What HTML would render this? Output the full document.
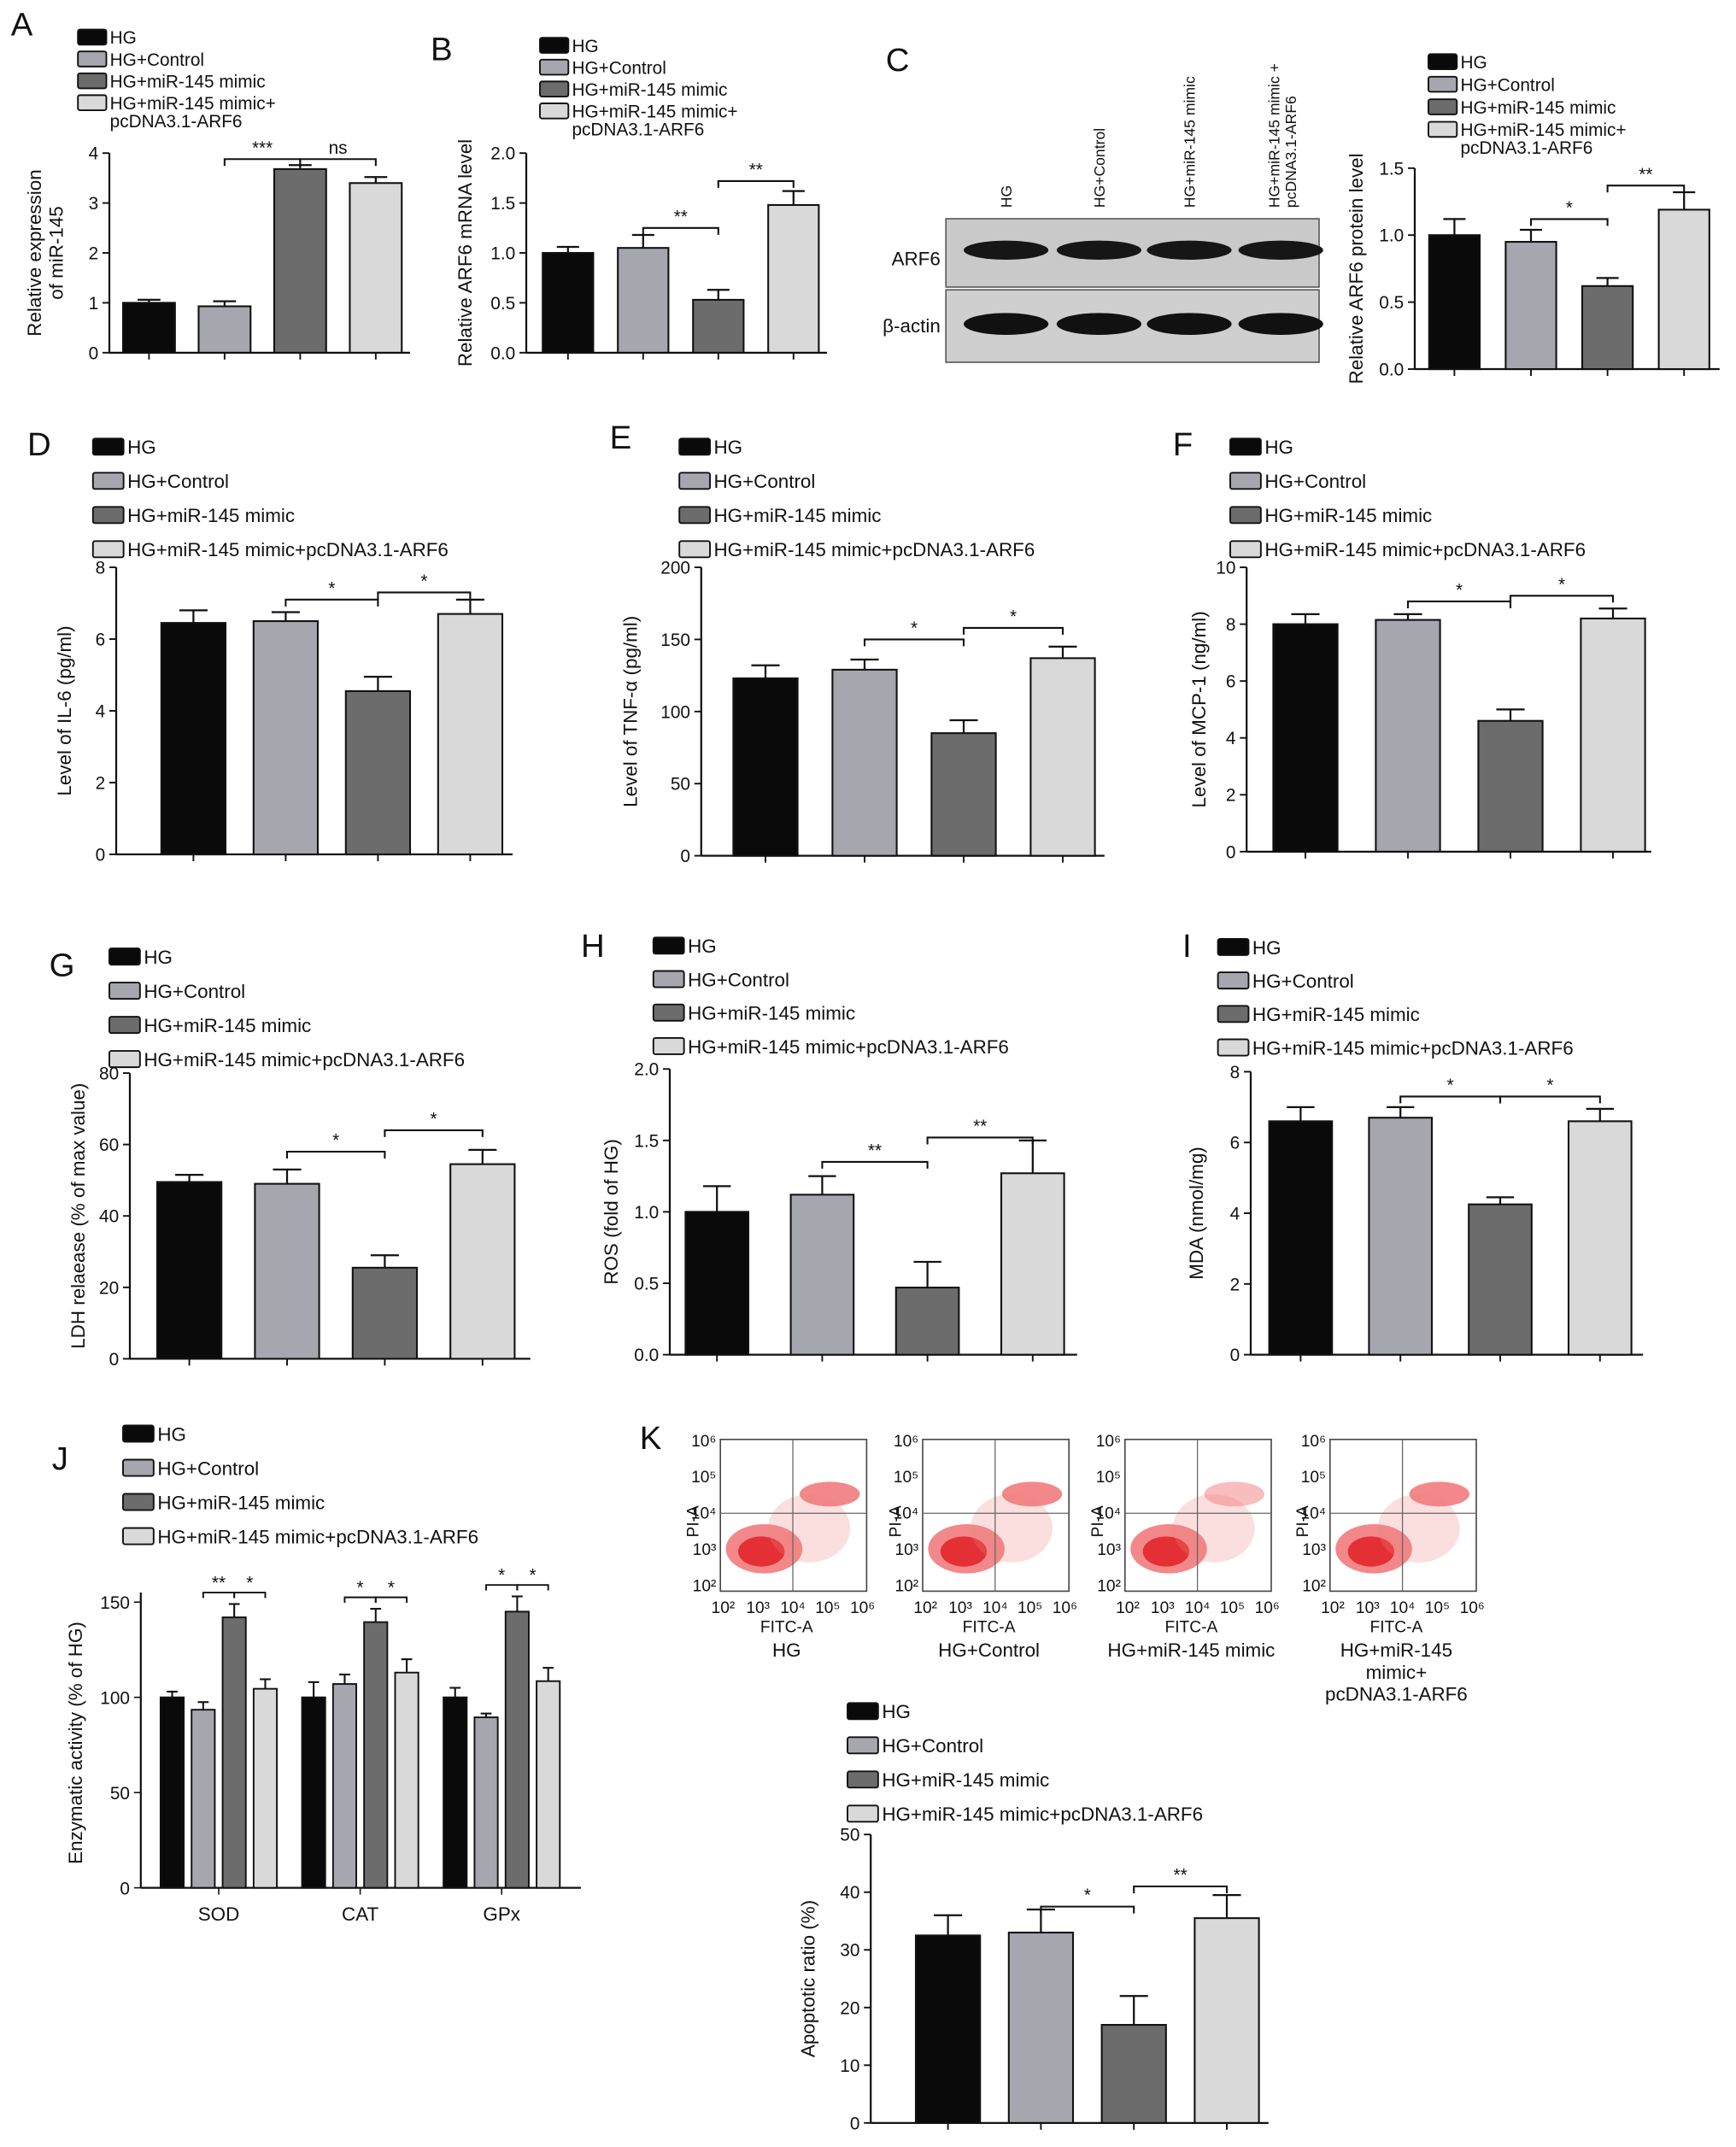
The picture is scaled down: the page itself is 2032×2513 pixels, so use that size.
<!DOCTYPE html>
<html><head><meta charset="utf-8"><style>
html,body{margin:0;padding:0;background:#fff}
svg{display:block}
text{font-family:"Liberation Sans",Arial,sans-serif;fill:#111}
</style></head><body>
<svg id="fig" width="2032" height="2513" viewBox="0 0 1270 1570.6" xmlns="http://www.w3.org/2000/svg"></svg>
<script>
const groups=["HG","HG+Control","HG+miR-145 mimic","HG+miR-145 mimic+pcDNA3.1-ARF6"];
const aValues=[1.0,0.93,3.68,3.4], aErrors=[0.06,0.1,0.08,0.12], aTicks=[0,1,2,3,4];
const bValues=[1.0,1.05,0.53,1.48], bErrors=[0.06,0.13,0.1,0.14], bTicks=[0,0.5,1.0,1.5,2.0];
const cValues=[1.0,0.95,0.62,1.19], cErrors=[0.12,0.09,0.06,0.13], cTicks=[0,0.5,1.0,1.5];
const dValues=[6.45,6.5,4.55,6.7], dErrors=[0.35,0.25,0.4,0.4], dTicks=[0,2,4,6,8];
const eValues=[123,129,85,137], eErrors=[9,7,9,8], eTicks=[0,50,100,150,200];
const fValues=[8.0,8.15,4.6,8.2], fErrors=[0.35,0.2,0.4,0.35], fTicks=[0,2,4,6,8,10];
const gValues=[49.5,49,25.5,54.5], gErrors=[2,4,3.5,4], gTicks=[0,20,40,60,80];
const hValues=[1.0,1.12,0.47,1.27], hErrors=[0.18,0.13,0.18,0.23], hTicks=[0,0.5,1.0,1.5,2.0];
const iValues=[6.6,6.7,4.25,6.6], iErrors=[0.4,0.3,0.2,0.35], iTicks=[0,2,4,6,8];
const jCategories=["SOD","CAT","GPx"];
const jHG=[100,100,100], jControl=[93.5,107,89.5], jMimic=[142,139.5,145], jARF6=[104.5,113,108.5];
const jErrHG=[3,8,5], jErrControl=[4,5,2], jErrMimic=[7,7,8], jErrARF6=[5,7,7];
const jTicks=[0,50,100,150];
const kValues=[32.5,33,17,35.5], kErrors=[3.5,4,5,4], kTicks=[0,10,20,30,40,50];
const fills=["#0a0a0a","#a6a6ae","#6c6c6c","#d9d9d9"];
const svg=document.getElementById('fig');
const NS="http://www.w3.org/2000/svg";
function mk(tag,attrs,parent,text){const e=document.createElementNS(NS,tag);for(const k in attrs)e.setAttribute(k,attrs[k]);if(text!==undefined)e.textContent=text;(parent||svg).appendChild(e);return e;}

function legend(x,y,gap,size,wrap){
  const g=mk('g',{});
  
  
  groups.forEach((lab,i)=>{
    const r=mk('rect',{x:x,y:y+i*gap-size*0.8,width:size*1.6,height:size*0.85,fill:fills[i],stroke:'#111','stroke-width':1.2,rx:1.5},g);
    
    
    if(wrap&&i===3){
      const t=mk('text',{x:x+size*1.8,y:y+i*gap,'font-size':size},g,"HG+miR-145 mimic+");
      
      const t2=mk('text',{x:x+size*1.8,y:y+i*gap+size,'font-size':size},g,"pcDNA3.1-ARF6");
      
    } else {
      const t=mk('text',{x:x+size*1.8,y:y+i*gap,'font-size':size},g,lab);
      
    }
  });
}
function panelLetter(l,x,y){const t=mk('text',{x:x,y:y,'font-size':24},svg,l);}

function chart(c){
  const g=mk('g',{});
  
  
  const max=c.ticks[c.ticks.length-1];
  const Y=v=>c.y0-(v/max)*(c.y0-c.y1);
  const fs=c.fs||13;
  const ax=mk('line',{x1:c.ax,y1:c.y1,x2:c.ax,y2:c.y0,stroke:'#111','stroke-width':1.4},g);
  
  const xa=mk('line',{x1:c.ax,y1:c.y0,x2:c.xend,y2:c.y0,stroke:'#111','stroke-width':1.4},g);
  
  c.ticks.forEach(t=>{
    mk('line',{x1:c.ax-5,y1:Y(t),x2:c.ax,y2:Y(t),stroke:'#111','stroke-width':1.2},g);
    const lab=mk('text',{x:c.ax-8,y:Y(t)+fs*0.36,'font-size':fs,'text-anchor':'end'},g,c.fmt?c.fmt(t):String(t));
    
  });
  const yl=mk('text',{transform:`translate(${c.ylx},${(c.y0+c.y1)/2}) rotate(-90)`,'font-size':fs+1,'text-anchor':'middle'},g);
  
  c.ylabel.forEach((s,i)=>mk('tspan',{x:0,dy:i?fs+3:0},yl,s));
  c.values.forEach((v,i)=>{
    const cx=c.x0+i*c.step, w=c.w;
    const e=c.errors[i];
    mk('line',{x1:cx,y1:Y(v),x2:cx,y2:Y(v+e),stroke:'#111','stroke-width':1.4},g);
    mk('line',{x1:cx-w*0.22,y1:Y(v+e),x2:cx+w*0.22,y2:Y(v+e),stroke:'#111','stroke-width':1.4},g);
    const b=mk('rect',{x:cx-w/2,y:Y(v),width:w,height:c.y0-Y(v),fill:fills[i],stroke:'#111','stroke-width':1.3},g);
    
    mk('line',{x1:cx,y1:c.y0,x2:cx,y2:c.y0+5,stroke:'#111','stroke-width':1.2},g);
  });
  (c.sig||[]).forEach(s=>{
    const x1=c.x0+s[0]*c.step, x2=c.x0+s[1]*c.step, yy=Y(s[2]);
    mk('path',{d:`M${x1},${yy+5}V${yy}H${x2}V${yy+5}`,fill:'none',stroke:'#111','stroke-width':1.3},g);
    const t=mk('text',{x:(x1+x2)/2,y:yy-4,'font-size':13,'text-anchor':'middle'},g,s[3]);
    
  });
}
const f1=t=>t.toFixed(1);
panelLetter('A',8,26);legend(57,32,16,13,true);
chart({name:'chart-a',ax:80,y0:258,y1:112,xend:300,x0:109,step:55.3,w:38,values:aValues,errors:aErrors,ticks:aTicks,ylx:30,ylabel:['Relative expression','of miR-145'],sig:[[1,2,3.88,'***'],[2,3,3.88,'ns']],fs:13});
panelLetter('B',315,44);legend(395,38,16,13,true);
chart({name:'chart-b',ax:385,y0:258,y1:112,xend:605,x0:415.5,step:55,w:37,values:bValues,errors:bErrors,ticks:bTicks,fmt:f1,ylx:345,ylabel:['Relative ARF6 mRNA level'],sig:[[1,2,1.25,'**'],[2,3,1.72,'**']]});
panelLetter('C',648,52);
(function(){
 const g=mk('g',{});
 mk('rect',{x:692,y:160,width:273,height:50,fill:'#c9c9c9',stroke:'#555'},g);
 mk('rect',{x:692,y:212,width:273,height:53,fill:'#cfcfcf',stroke:'#555'},g);
 const lanes=['HG','HG+Control','HG+miR-145 mimic','HG+miR-145 mimic +'];
 [736,804,870,932].forEach((x,i)=>{
   mk('ellipse',{cx:i===3?937:x,cy:183,rx:31,ry:7,fill:'#161616'},g);
   mk('ellipse',{cx:i===3?937:x,cy:237,rx:31,ry:8,fill:'#111'},g);
   const t=mk('text',{transform:`translate(${x+4},152) rotate(-90)`,'font-size':11},g,lanes[i]);
   
 });
 const t2=mk('text',{transform:`translate(948,152) rotate(-90)`,'font-size':11},g,'pcDNA3.1-ARF6');
 
 mk('text',{x:688,y:194,'font-size':14,'text-anchor':'end'},g,'ARF6');
 mk('text',{x:688,y:243,'font-size':14,'text-anchor':'end'},g,'β-actin');
})();
legend(1045,50,16.5,13,true);
chart({name:'chart-c',ax:1035,y0:270,y1:123,xend:1258,x0:1064,step:56,w:37,values:cValues,errors:cErrors,ticks:cTicks,fmt:f1,ylx:997,ylabel:['Relative ARF6 protein level'],sig:[[1,2,1.12,'*'],[2,3,1.37,'**']]});
panelLetter('D',20,333);legend(68,332,25,14);
chart({name:'chart-d',ax:85,y0:625,y1:415,xend:375,x0:141.5,step:67.5,w:47,values:dValues,errors:dErrors,ticks:dTicks,ylx:52,ylabel:['Level of IL-6 (pg/ml)'],sig:[[1,2,7.1,'*'],[2,3,7.3,'*']]});
panelLetter('E',446,328);legend(497,332,25,14);
chart({name:'chart-e',ax:513,y0:626,y1:415,xend:808,x0:560,step:72.5,w:47,values:eValues,errors:eErrors,ticks:eTicks,ylx:466,ylabel:['Level of TNF-α (pg/ml)'],sig:[[1,2,150,'*'],[2,3,158,'*']]});
panelLetter('F',858,333);legend(900,332,25,14);
chart({name:'chart-f',ax:912,y0:623,y1:415,xend:1208,x0:955,step:75,w:47,values:fValues,errors:fErrors,ticks:fTicks,ylx:882,ylabel:['Level of MCP-1 (ng/ml)'],sig:[[1,2,8.8,'*'],[2,3,9.0,'*']]});
panelLetter('G',36,714);legend(80,705,25,14);
chart({name:'chart-g',ax:95,y0:994,y1:785,xend:388,x0:138.5,step:71.5,w:47,values:gValues,errors:gErrors,ticks:gTicks,ylx:62,ylabel:['LDH relaease (% of max value)'],sig:[[1,2,58,'*'],[2,3,64,'*']]});
panelLetter('H',425,700);legend(478,697,24.5,14);
chart({name:'chart-h',ax:490,y0:991,y1:782,xend:788,x0:524.5,step:77,w:46,values:hValues,errors:hErrors,ticks:hTicks,fmt:f1,ylx:452,ylabel:['ROS (fold of HG)'],sig:[[1,2,1.35,'**'],[2,3,1.52,'**']]});
panelLetter('I',865,700);legend(891,698,24.5,14);
chart({name:'chart-i',ax:915,y0:991,y1:784,xend:1202,x0:951.5,step:73,w:46,values:iValues,errors:iErrors,ticks:iTicks,ylx:880,ylabel:['MDA (nmol/mg)'],sig:[[1,2,7.3,'*'],[2,3,7.3,'*']]});
panelLetter('J',38,1075);legend(90,1054,25,14);
(function(){
 const g=mk('g',{});
 const y0=1381,y1=1172,max=150,ax=103;
 const Y=v=>y0-(v/max)*(y0-y1);
 mk('line',{x1:ax,y1:1165,x2:ax,y2:y0,stroke:'#111','stroke-width':1.4},g);
 mk('line',{x1:ax,y1:y0,x2:425,y2:y0,stroke:'#111','stroke-width':1.4},g);
 jTicks.forEach(t=>{mk('line',{x1:ax-5,y1:Y(t),x2:ax,y2:Y(t),stroke:'#111'},g);
   const l=mk('text',{x:ax-8,y:Y(t)+5,'font-size':13,'text-anchor':'end'},g,String(t));});
 const yl=mk('text',{transform:`translate(60,1275) rotate(-90)`,'font-size':14,'text-anchor':'middle'},g,'Enzymatic activity (% of HG)');
 
 const series=[jHG,jControl,jMimic,jARF6], errs=[jErrHG,jErrControl,jErrMimic,jErrARF6];
 jCategories.forEach((cat,k)=>{
   const gc=160+k*103.5;
   series.forEach((s,i)=>{
     const cx=gc+(i-1.5)*22.7, w=17, v=s[k], e=errs[i][k];
     mk('line',{x1:cx,y1:Y(v),x2:cx,y2:Y(v+e),stroke:'#111','stroke-width':1.3},g);
     mk('line',{x1:cx-4,y1:Y(v+e),x2:cx+4,y2:Y(v+e),stroke:'#111','stroke-width':1.3},g);
     const b=mk('rect',{x:cx-w/2,y:Y(v),width:w,height:y0-Y(v),fill:fills[i],stroke:'#111','stroke-width':1.2},g);
     
   });
   mk('line',{x1:gc,y1:y0,x2:gc,y2:y0+5,stroke:'#111'},g);
   const l=mk('text',{x:gc,y:y0+24,'font-size':14,'text-anchor':'middle'},g,cat);
   const top=jMimic[k]+errs[2][k]+6, yy=Y(top);
   [[1,2],[2,3]].forEach((p,q)=>{const x1=gc+(p[0]-1.5)*22.7,x2=gc+(p[1]-1.5)*22.7;
     mk('path',{d:`M${x1},${yy+4}V${yy}H${x2}V${yy+4}`,fill:'none',stroke:'#111','stroke-width':1.2},g);
     mk('text',{x:(x1+x2)/2,y:yy-3,'font-size':13,'text-anchor':'middle'},g,(k===0&&q===0)?'**':'*');});
 });
})();
panelLetter('K',468,1060);
(function(){
 const titles=[['HG'],['HG+Control'],['HG+miR-145 mimic'],['HG+miR-145','mimic+','pcDNA3.1-ARF6']];
 [527,675,823,973].forEach((x,i)=>{
   const g=mk('g',{});
   const y=1053,w=107,h=111;
   mk('rect',{x:x,y:y,width:w,height:h,fill:'#fff',stroke:'#444','stroke-width':1},g);
   mk('ellipse',{cx:x+32,cy:y+80,rx:28,ry:18,fill:'#e8262a',opacity:0.55},g);
   mk('ellipse',{cx:x+30,cy:y+82,rx:17,ry:11,fill:'#e01a1e',opacity:0.8},g);
   mk('ellipse',{cx:x+80,cy:y+40,rx:22,ry:9,fill:'#e8262a',opacity:i===2?0.3:0.55},g);
   mk('ellipse',{cx:x+65,cy:y+65,rx:30,ry:25,fill:'#f08080',opacity:0.25},g);
   mk('line',{x1:x+53,y1:y,x2:x+53,y2:y+h,stroke:'#666','stroke-width':0.8},g);
   mk('line',{x1:x,y1:y+54,x2:x+w,y2:y+54,stroke:'#666','stroke-width':0.8},g);
   ['10⁶','10⁵','10⁴','10³','10²'].forEach((s,k)=>mk('text',{x:x-3,y:y+5+k*26.5,'font-size':12,'text-anchor':'end'},g,s));
   ['10²','10³','10⁴','10⁵','10⁶'].forEach((s,k)=>mk('text',{x:x+2+k*25.5,y:y+h+16,'font-size':12,'text-anchor':'middle'},g,s));
   mk('text',{transform:`translate(${x-16},${y+60}) rotate(-90)`,'font-size':12,'text-anchor':'middle'},g,'PI-A');
   mk('text',{x:x+w/2-5,y:y+h+30,'font-size':12,'text-anchor':'middle'},g,'FITC-A');
   titles[i].forEach((s,k)=>{const t=mk('text',{x:x+w/2-5,y:y+h+48+k*16,'font-size':14,'text-anchor':'middle'},g,s);});
 });
})();
legend(620,1257,25,14);
chart({name:'chart-k',ax:637,y0:1553,y1:1342,xend:928,x0:693.5,step:68,w:47,values:kValues,errors:kErrors,ticks:kTicks,ylx:596,ylabel:['Apoptotic ratio (%)'],sig:[[1,2,37.5,'*'],[2,3,41,'**']]});
</script>
</body></html>
